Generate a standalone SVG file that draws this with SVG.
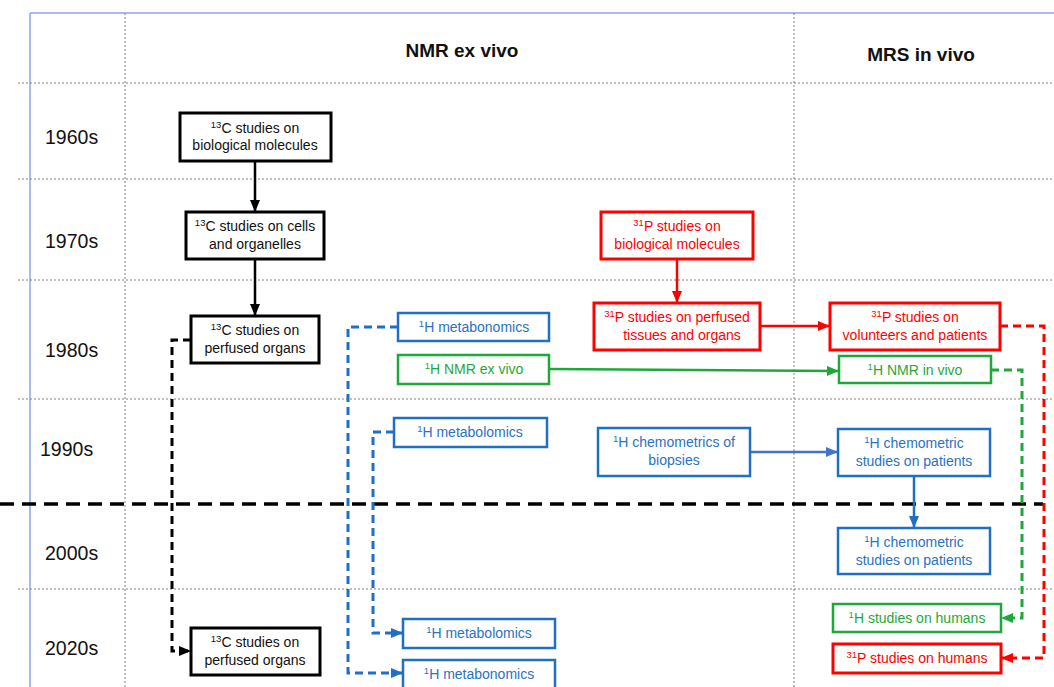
<svg xmlns="http://www.w3.org/2000/svg" width="1054" height="687" viewBox="0 0 1054 687">
<style>
text{font-family:"Liberation Sans",Arial,sans-serif;}
.t{font-size:14px;text-anchor:middle;}
.sup{font-size:9.5px;}
.dec{font-size:19.5px;fill:#111;}
.hdr{font-size:19px;font-weight:bold;text-anchor:middle;fill:#111;}
.grid{stroke:#808080;stroke-width:1;stroke-dasharray:2 2;fill:none;}
.bk rect{fill:#fff;stroke:#000;stroke-width:3;}
.bk text{fill:#111;}
.rd rect{fill:#fff;stroke:#ff0000;stroke-width:3;}
.rd text{fill:#ff0000;}
.gr rect{fill:#fff;stroke:#1fa83a;stroke-width:2.5;}
.gr text{fill:#1fa83a;}
.bl rect{fill:#fff;stroke:#1f6fc6;stroke-width:2.5;}
.bl text{fill:#2a72c2;}
.c{fill:none;stroke-width:2.5;}
.dash{stroke-dasharray:8 5;stroke-width:3;}
</style>
<defs>
<marker id="ak" markerUnits="userSpaceOnUse" markerWidth="12" markerHeight="10" refX="11" refY="5" orient="auto"><path d="M0,0 L12,5 L0,10 z" fill="#000"/></marker>
<marker id="ar" markerUnits="userSpaceOnUse" markerWidth="12" markerHeight="10" refX="11" refY="5" orient="auto"><path d="M0,0 L12,5 L0,10 z" fill="#ff0000"/></marker>
<marker id="ag" markerUnits="userSpaceOnUse" markerWidth="12" markerHeight="10" refX="11" refY="5" orient="auto"><path d="M0,0 L12,5 L0,10 z" fill="#1fa83a"/></marker>
<marker id="ab" markerUnits="userSpaceOnUse" markerWidth="12" markerHeight="10" refX="11" refY="5" orient="auto"><path d="M0,0 L12,5 L0,10 z" fill="#1f6fc6"/></marker>
<marker id="as" markerUnits="userSpaceOnUse" markerWidth="12" markerHeight="10" refX="11" refY="5" orient="auto"><path d="M0,0 L12,5 L0,10 z" fill="#4472c4"/></marker>
</defs>
<rect width="1054" height="687" fill="#fff"/>
<g id="grid">
<line x1="30" y1="13" x2="1054" y2="13" stroke="#8aa6e6" stroke-width="1.5"/>
<line x1="30" y1="13" x2="30" y2="687" stroke="#8aa6e6" stroke-width="1.5"/>
<line class="grid" x1="125" y1="13" x2="125" y2="687"/>
<line class="grid" x1="794" y1="13" x2="794" y2="687"/>
<line class="grid" x1="18" y1="83" x2="1054" y2="83"/>
<line class="grid" x1="18" y1="179" x2="1054" y2="179"/>
<line class="grid" x1="18" y1="280" x2="1054" y2="280"/>
<line class="grid" x1="18" y1="399" x2="1054" y2="399"/>
<line class="grid" x1="18" y1="589" x2="1054" y2="589"/>
<line x1="0" y1="504" x2="1043" y2="504" stroke="#000" stroke-width="3.5" stroke-dasharray="14 8"/>
</g>
<g id="labels">
<text class="hdr" x="462" y="57">NMR ex vivo</text>
<text class="hdr" x="921" y="61">MRS in vivo</text>
<text class="dec" x="45" y="144">1960s</text>
<text class="dec" x="45" y="248">1970s</text>
<text class="dec" x="45" y="357">1980s</text>
<text class="dec" x="40" y="456">1990s</text>
<text class="dec" x="45" y="560">2000s</text>
<text class="dec" x="45" y="655">2020s</text>
</g>
<g id="connectors">
<line class="c" x1="255" y1="161" x2="255" y2="211" stroke="#000" marker-end="url(#ak)"/>
<line class="c" x1="255" y1="259" x2="255" y2="315" stroke="#000" marker-end="url(#ak)"/>
<polyline class="c dash" points="191,340 172,340 172,651 190,651" stroke="#000" marker-end="url(#ak)"/>
<polyline class="c dash" points="398,327 348,327 348,673 402,673" stroke="#1f6fc6" marker-end="url(#ab)"/>
<polyline class="c dash" points="394,432 373,432 373,633 402,633" stroke="#1f6fc6" marker-end="url(#ab)"/>
<line class="c" x1="549" y1="369" x2="838" y2="371" stroke="#1fa83a" marker-end="url(#ag)"/>
<line class="c" x1="677" y1="259" x2="677" y2="302" stroke="#ff0000" marker-end="url(#ar)"/>
<line class="c" x1="760" y1="326" x2="829" y2="326" stroke="#ff0000" marker-end="url(#ar)"/>
<polyline class="c dash" points="1000,326 1044,326 1044,658 1002,658" stroke="#ff0000" marker-end="url(#ar)"/>
<polyline class="c dash" points="991,370 1022,370 1022,618 1002,618" stroke="#1fa83a" marker-end="url(#ag)"/>
<line class="c" x1="750" y1="452" x2="837" y2="452" stroke="#4472c4" marker-end="url(#as)"/>
<line class="c" x1="914" y1="476" x2="914" y2="527" stroke="#1f6fc6" marker-end="url(#ab)"/>
</g>
<g id="n1" class="bk"><rect x="180" y="113" width="151" height="48"/><text class="t" x="255" y="133"><tspan class="sup" dy="-5">13</tspan><tspan dy="5">C studies on</tspan></text><text class="t" x="255" y="150">biological molecules</text></g>
<g id="n2" class="bk"><rect x="186" y="212" width="138" height="47"/><text class="t" x="255" y="231"><tspan class="sup" dy="-5">13</tspan><tspan dy="5">C studies on cells</tspan></text><text class="t" x="255" y="249">and organelles</text></g>
<g id="n3" class="bk"><rect x="191" y="316" width="128" height="47"/><text class="t" x="255" y="335"><tspan class="sup" dy="-5">13</tspan><tspan dy="5">C studies on</tspan></text><text class="t" x="255" y="353">perfused organs</text></g>
<g id="n4" class="bl"><rect x="398" y="313" width="151" height="28"/><text class="t" x="474" y="332"><tspan class="sup" dy="-5">1</tspan><tspan dy="5">H metabonomics</tspan></text></g>
<g id="n5" class="gr"><rect x="398" y="355" width="151" height="29"/><text class="t" x="474" y="374"><tspan class="sup" dy="-5">1</tspan><tspan dy="5">H NMR ex vivo</tspan></text></g>
<g id="n6" class="rd"><rect x="601" y="212" width="152" height="47"/><text class="t" x="677" y="231"><tspan class="sup" dy="-5">31</tspan><tspan dy="5">P studies on</tspan></text><text class="t" x="677" y="249">biological molecules</text></g>
<g id="n7" class="rd"><rect x="594" y="303" width="166" height="47"/><text class="t" x="677" y="322"><tspan class="sup" dy="-5">31</tspan><tspan dy="5">P studies on perfused</tspan></text><text class="t" x="682" y="340">tissues and organs</text></g>
<g id="n8" class="rd"><rect x="830" y="303" width="170" height="47"/><text class="t" x="915" y="322"><tspan class="sup" dy="-5">31</tspan><tspan dy="5">P studies on</tspan></text><text class="t" x="915" y="340">volunteers and patients</text></g>
<g id="n9" class="gr"><rect x="839" y="356" width="152" height="27"/><text class="t" x="915" y="375"><tspan class="sup" dy="-5">1</tspan><tspan dy="5">H NMR in vivo</tspan></text></g>
<g id="n10" class="bl"><rect x="394" y="418" width="153" height="29"/><text class="t" x="470" y="437"><tspan class="sup" dy="-5">1</tspan><tspan dy="5">H metabolomics</tspan></text></g>
<g id="n11" class="bl"><rect x="598" y="428" width="152" height="48"/><text class="t" x="674" y="447"><tspan class="sup" dy="-5">1</tspan><tspan dy="5">H chemometrics of</tspan></text><text class="t" x="674" y="465">biopsies</text></g>
<g id="n12" class="bl"><rect x="838" y="429" width="152" height="47"/><text class="t" x="914" y="448"><tspan class="sup" dy="-5">1</tspan><tspan dy="5">H chemometric</tspan></text><text class="t" x="914" y="466">studies on patients</text></g>
<g id="n13" class="bl"><rect x="838" y="528" width="152" height="46"/><text class="t" x="914" y="547"><tspan class="sup" dy="-5">1</tspan><tspan dy="5">H chemometric</tspan></text><text class="t" x="914" y="565">studies on patients</text></g>
<g id="n14" class="gr"><rect x="833" y="604" width="168" height="28"/><text class="t" x="917" y="623"><tspan class="sup" dy="-5">1</tspan><tspan dy="5">H studies on humans</tspan></text></g>
<g id="n15" class="rd"><rect x="833" y="644" width="168" height="29"/><text class="t" x="917" y="663"><tspan class="sup" dy="-5">31</tspan><tspan dy="5">P studies on humans</tspan></text></g>
<g id="n16" class="bk"><rect x="191" y="628" width="129" height="47"/><text class="t" x="255" y="647"><tspan class="sup" dy="-5">13</tspan><tspan dy="5">C studies on</tspan></text><text class="t" x="255" y="665">perfused organs</text></g>
<g id="n17" class="bl"><rect x="403" y="619" width="152" height="29"/><text class="t" x="479" y="638"><tspan class="sup" dy="-5">1</tspan><tspan dy="5">H metabolomics</tspan></text></g>
<g id="n18" class="bl"><rect x="403" y="660" width="152" height="29"/><text class="t" x="479" y="679"><tspan class="sup" dy="-5">1</tspan><tspan dy="5">H metabonomics</tspan></text></g>
</svg>
